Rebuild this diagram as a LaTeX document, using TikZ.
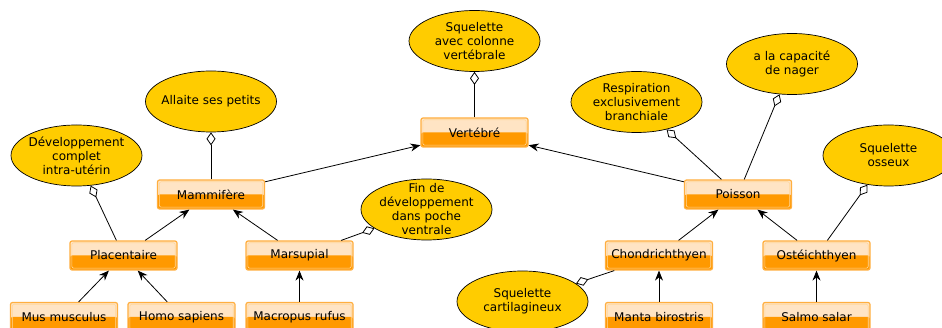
\documentclass[tikz,border=0pt]{standalone}
\usepackage{fontspec}
\setmainfont{DejaVu Sans}
\usetikzlibrary{shapes.geometric, arrows.meta}
\definecolor{boxlight}{HTML}{FFE4C4}
\definecolor{boxdark}{HTML}{FF9900}
\definecolor{boxborder}{HTML}{FFAF40}
\definecolor{boxrim}{HTML}{FFD79A}
\definecolor{attrfill}{HTML}{FFCC00}
\begin{document}
\begin{tikzpicture}[x=1pt,y=-1pt, font=\fontsize{12}{14}\selectfont,
  classbox/.style={rectangle, rounded corners=2pt, minimum width=107pt, minimum height=29pt,
    inner sep=0pt, draw=boxborder, line width=1.2pt, fill=boxlight,
    path picture={
      \fill[boxdark] (path picture bounding box.west) rectangle (path picture bounding box.south east);
      \draw[boxrim, line width=0.6pt] ([xshift=1.8pt,yshift=-1.8pt]path picture bounding box.north west) rectangle ([xshift=-1.8pt,yshift=1.8pt]path picture bounding box.south east);
    }},
  attr/.style={ellipse, draw=black, line width=0.7pt, fill=attrfill,
    minimum width=131pt, minimum height=61pt, inner sep=0pt},
  attrtext/.style={align=center, inner sep=0pt},
  gen/.style={-{Stealth[length=10pt,width=8pt]}, line width=0.8pt},
  agg/.style={-{Diamond[length=13pt,width=9pt,fill=white]}, line width=0.8pt}
]
\clip (0,0) rectangle (942,328);
\fill[white] (0,0) rectangle (942,328);

% ellipses (attributes)
\node[attr] (eVert) at (474.5,41) {};
\node[attrtext] (tVert) at (eVert) {Squelette\\avec colonne\\vertébrale};
\node[attr] (eMamm) at (211,101.5) {};
\node[attrtext] (tMamm) at (eMamm) {Allaite ses petits};
\node[attr] (eDev) at (76.5,155.5) {};
\node[attrtext] (tDev) at (eDev) {Développement\\complet\\intra-utérin};
\node[attr] (eFin) at (426.5,209.5) {};
\node[attrtext] (tFin) at (eFin) {Fin de\\développement\\dans poche\\ventrale};
\node[attr] (eResp) at (636.5,102) {};
\node[attrtext] (tResp) at (eResp) {Respiration\\exclusivement\\branchiale};
\node[attr] (eNag) at (792,64) {};
\node[attrtext] (tNag) at (eNag) {a la capacité\\de nager};
\node[attr] (eOss) at (888.5,155.5) {};
\node[attrtext] (tOss) at (eOss) {Squelette\\osseux};
\node[attr] (eCart) at (522.5,301.5) {};
\node[attrtext] (tCart) at (eCart) {Squelette\\cartilagineux};

% class boxes
\node[classbox] (vert) at (474.5,132.5) {Vertébré};
\node[classbox] (mamm) at (211,194.5) {Mammifère};
\node[classbox] (pois) at (738,194.5) {Poisson};
\node[classbox] (plac) at (123.5,255.5) {Placentaire};
\node[classbox] (mars) at (299.5,255.5) {Marsupial};
\node[classbox] (chon) at (659,255.5) {Chondrichthyen};
\node[classbox] (oste) at (816.5,255.5) {Ostéichthyen};
\node[classbox] (mus) at (64,317) {Mus musculus};
\node[classbox] (homo) at (181.5,317) {Homo sapiens};
\node[classbox] (macro) at (299.5,317) {Macropus rufus};
\node[classbox] (manta) at (659,317) {Manta birostris};
\node[classbox] (salmo) at (816.5,317) {Salmo salar};

% generalisation
\draw[gen] (mamm) -- (vert);
\draw[gen] (pois) -- (vert);
\draw[gen] (plac) -- (mamm);
\draw[gen] (mars) -- (mamm);
\draw[gen] (chon) -- (pois);
\draw[gen] (oste) -- (pois);
\draw[gen] (mus) -- (plac);
\draw[gen] (homo) -- (plac);
\draw[gen] (macro) -- (mars);
\draw[gen] (manta) -- (chon);
\draw[gen] (salmo) -- (oste);

% aggregation
\draw[agg] (vert) -- (eVert);
\draw[agg] (mamm) -- (eMamm);
\draw[agg] (plac) -- (eDev);
\draw[agg] (mars) -- (eFin);
\draw[agg] (pois) -- (eResp);
\draw[agg] (pois) -- (eNag);
\draw[agg] (oste) -- (eOss);
\draw[agg] (chon) -- (eCart);
\end{tikzpicture}
\end{document}
